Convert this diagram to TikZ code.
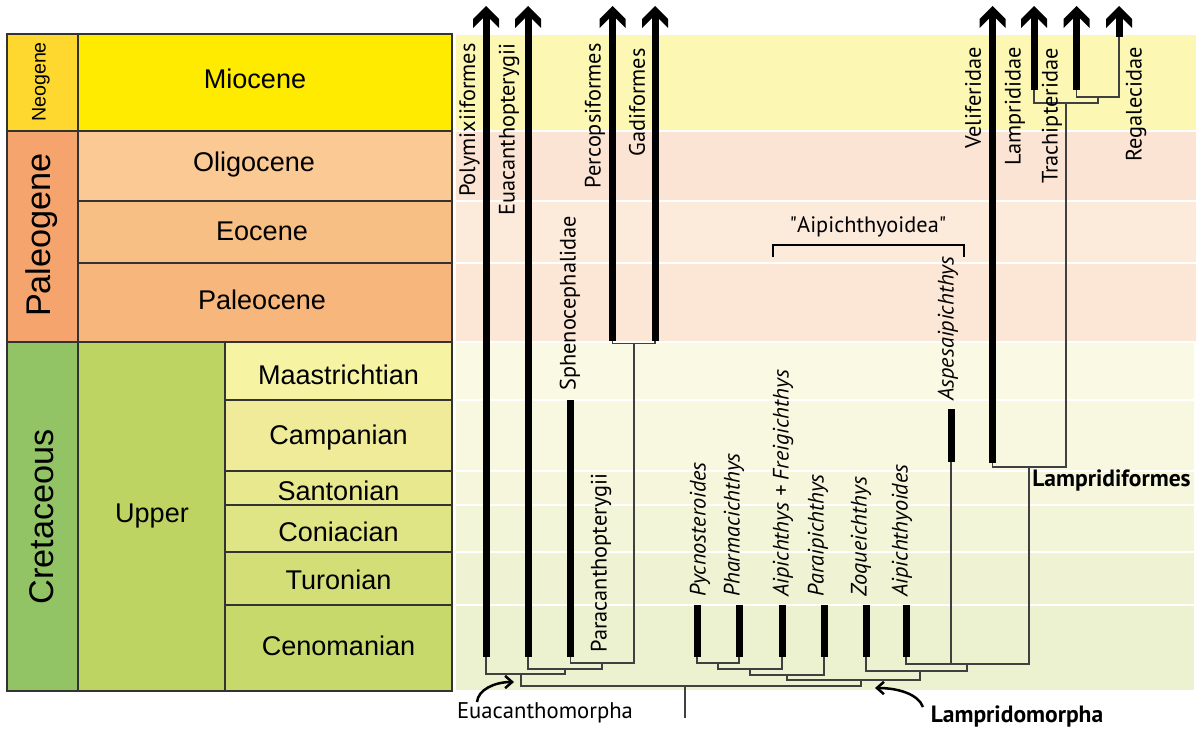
\documentclass[tikz,border=0pt]{standalone}
\usepackage{fontspec}
\setmainfont{PT Sans}
\newfontfamily\tsfont{Liberation Sans}
\usetikzlibrary{arrows.meta}
\definecolor{cNeo}{HTML}{FED82E}
\definecolor{cMio}{HTML}{FFEB00}
\definecolor{cPal}{HTML}{F4A46C}
\definecolor{cOli}{HTML}{FAC994}
\definecolor{cEoc}{HTML}{F8BF85}
\definecolor{cPcn}{HTML}{F7B67C}
\definecolor{cCre}{HTML}{92C466}
\definecolor{cUpp}{HTML}{BDD463}
\definecolor{cMaa}{HTML}{F6F3A2}
\definecolor{cCam}{HTML}{EFEB98}
\definecolor{cSan}{HTML}{E8E98F}
\definecolor{cCon}{HTML}{DFE484}
\definecolor{cTur}{HTML}{D4DE77}
\definecolor{cCen}{HTML}{C8D96B}
\definecolor{bMio}{HTML}{FCF7B3}
\definecolor{bOli}{HTML}{FCE4D4}
\definecolor{bEoc}{HTML}{FCEADB}
\definecolor{bPcn}{HTML}{FCE6D6}
\definecolor{bMaa}{HTML}{FAFAE4}
\definecolor{bCam}{HTML}{F8F8E0}
\definecolor{bSan}{HTML}{F5F6DC}
\definecolor{bCon}{HTML}{F3F5D8}
\definecolor{bTur}{HTML}{EFF3D3}
\definecolor{bCen}{HTML}{ECF2D0}
\begin{document}
\begin{tikzpicture}[x=0.02cm,y=-0.02cm,
  tbox/.style={draw=black!80,line width=0.022cm},
  tslab/.style={font=\tsfont\fontsize{15.4}{18}\selectfont,inner sep=0pt},
  bigrot/.style={font=\tsfont\fontsize{19.5}{22}\selectfont,inner sep=0pt,rotate=90},
  band/.style={draw=white,line width=0.04cm},
  bar/.style={line width=0.14cm,black},
  branch/.style={line width=0.026cm,black!75},
  taxon/.style={font=\fontsize{12.7}{14}\selectfont,inner sep=0pt,rotate=90},
  fossil/.style={font=\itshape\fontsize{12.7}{14}\selectfont,inner sep=0pt,rotate=90},
  clade/.style={font=\bfseries\fontsize{13.4}{15}\selectfont,inner sep=0pt},
  chev/.pic={\fill[black] (-13,13) -- (0,0) -- (13,13) -- (13,22) -- (0,9) -- (-13,22) -- cycle;},
  callout/.style={line width=0.05cm,-{Straight Barb[length=4pt,width=7pt]}}
  ]
\useasboundingbox (0,0) rectangle (1199,733);
% ---------- background bands ----------
\filldraw[band,fill=bMio] (455,34) rectangle (1197,131);
\filldraw[band,fill=bOli] (455,131) rectangle (1197,201);
\filldraw[band,fill=bEoc] (455,201) rectangle (1197,263);
\filldraw[band,fill=bPcn] (455,263) rectangle (1197,342);
\filldraw[band,fill=bMaa] (455,342) rectangle (1195,400);
\filldraw[band,fill=bCam] (455,400) rectangle (1195,471);
\filldraw[band,fill=bSan] (455,471) rectangle (1195,505);
\filldraw[band,fill=bCon] (455,505) rectangle (1195,552);
\filldraw[band,fill=bTur] (455,552) rectangle (1195,605);
\filldraw[band,fill=bCen] (455,605) rectangle (1195,691);
% ---------- time scale ----------
\filldraw[tbox,fill=cNeo] (7,34) rectangle (78,131);
\filldraw[tbox,fill=cMio] (78,34) rectangle (452,131);
\filldraw[tbox,fill=cPal] (7,131) rectangle (78,342);
\filldraw[tbox,fill=cOli] (78,131) rectangle (452,201);
\filldraw[tbox,fill=cEoc] (78,201) rectangle (452,263);
\filldraw[tbox,fill=cPcn] (78,263) rectangle (452,342);
\filldraw[tbox,fill=cCre] (7,342) rectangle (78,691);
\filldraw[tbox,fill=cUpp] (78,342) rectangle (225,691);
\filldraw[tbox,fill=cMaa] (225,342) rectangle (452,400);
\filldraw[tbox,fill=cCam] (225,400) rectangle (452,471);
\filldraw[tbox,fill=cSan] (225,471) rectangle (452,505);
\filldraw[tbox,fill=cCon] (225,505) rectangle (452,552);
\filldraw[tbox,fill=cTur] (225,552) rectangle (452,605);
\filldraw[tbox,fill=cCen] (225,605) rectangle (452,691);
\node[font=\tsfont\fontsize{11.2}{13}\selectfont,inner sep=0pt,rotate=90] (neo) at (41,82) {Neogene};
\node[bigrot] (pal) at (42,235) {Paleogene};
\node[bigrot] (cre) at (42,517) {Cretaceous};
\node[tslab] (mio) at (255,79) {Miocene};
\node[tslab] (oli) at (254,165) {Oligocene};
\node[tslab] (eoc) at (262,231) {Eocene};
\node[tslab] (pcn) at (262,300) {Paleocene};
\node[tslab] (upp) at (152,516) {Upper};
\node[tslab] (maa) at (338.5,375) {Maastrichtian};
\node[tslab] (cam) at (338.5,438) {Campanian};
\node[tslab] (san) at (338.5,491) {Santonian};
\node[tslab] (con) at (338.5,532) {Coniacian};
\node[tslab] (tur) at (338.5,580) {Turonian};
\node[tslab] (cen) at (338.5,646) {Cenomanian};
% ---------- tip coordinates ----------
\coordinate (poly) at (486,657);
\coordinate (euac) at (528,657);
\coordinate (sphe) at (570.5,657);
\coordinate (perc) at (612.5,341);
\coordinate (gadi) at (655,341);
\coordinate (pycn) at (697,657);
\coordinate (phar) at (739,657);
\coordinate (aipf) at (782,657);
\coordinate (para) at (824,657);
\coordinate (zoqu) at (866,657);
\coordinate (aipo) at (906,657);
\coordinate (aspe) at (951,462);
\coordinate (veli) at (992.5,463);
\coordinate (lamp) at (1034,90);
\coordinate (trac) at (1076.5,90);
\coordinate (rega) at (1119,37);
% ---------- arrows / bars ----------
\foreach \x in {486,528,612.5,655,992.5,1034,1076.5,1119} {\pic at (\x,6) {chev};}
\draw[bar] (486,14) -- (poly);
\draw[bar] (528,14) -- (euac);
\draw[bar] (612.5,14) -- (perc);
\draw[bar] (655,14) -- (gadi);
\draw[bar] (992.5,14) -- (veli);
\draw[bar] (1034,14) -- (lamp);
\draw[bar] (1076.5,14) -- (trac);
\draw[bar] (1119,14) -- (rega);
\draw[bar] (570.5,400) -- (sphe);
\draw[bar] (951,409) -- (aspe);
\foreach \c in {pycn,phar,aipf,para,zoqu,aipo} {\draw[bar] (\c) ++(0,-52) -- (\c);}
% ---------- branches ----------
% Lampridiformes
\draw[branch] (trac) |- (1098,97) -| (rega);
\draw[branch] (lamp) |- (1066,103) -| (1098,97);
\draw[branch] (veli) |- (1029,467) -| (1066,103);
% Paracanthopterygii
\draw[branch] (perc) |- (634,343.5) -| (gadi);
\draw[branch] (sphe) |- (602,663) -| (634,343.5);
\draw[branch] (euac) |- (565,669) -| (602,663);
\draw[branch] (poly) |- (521,674) -| (565,669);
% Lampridomorpha
\draw[branch] (pycn) |- (718,663) -| (phar);
\draw[branch] (aipf) |- (750,669) -| (718,663);
\draw[branch] (para) |- (787,675) -| (750,669);
\draw[branch] (aipo) |- (1029,664) -- (1029,467);
\draw[branch] (aspe) -- (951,664);
\draw[branch] (zoqu) |- (920,671) -| (967,664);
\draw[branch] (787,675) |- (861,680) -| (920,671);
\draw[branch] (521,674) |- (685,686) -| (861,680);
\draw[branch] (685,686) -- (685,718);
% ---------- taxon labels ----------
\node[taxon,anchor=east] (tPoly) at (469.5,43) {Polymixiiformes};
\node[taxon,anchor=east] (tEuac) at (509,43) {Euacanthopterygii};
\node[taxon,anchor=east] (tPerc) at (595,43) {Percopsiformes};
\node[taxon,anchor=east] (tGadi) at (637,48) {Gadiformes};
\node[taxon,anchor=west] (tSphe) at (570,391) {Sphenocephalidae};
\node[taxon,anchor=west] (tPara) at (601,653) {Paracanthopterygii};
\node[taxon,anchor=east] (tVeli) at (973,47) {Veliferidae};
\node[taxon,anchor=east] (tLamp) at (1015,47) {Lamprididae};
\node[taxon,anchor=east] (tTrac) at (1052,48) {Trachipteridae};
\node[taxon,anchor=east] (tRega) at (1136,47) {Regalecidae};
\node[fossil,anchor=west] (tPycn) at (700,597) {Pycnosteroides};
\node[fossil,anchor=west] (tPhar) at (734,597) {Pharmacichthys};
\node[fossil,anchor=west] (tAipf) at (783,597) {Aipichthys + Freigichthys};
\node[fossil,anchor=west] (tPara2) at (818,597) {Paraipichthys};
\node[fossil,anchor=west] (tZoqu) at (861,597) {Zoqueichthys};
\node[fossil,anchor=west] (tAipo) at (902,597) {Aipichthyoides};
\node[fossil,anchor=west] (tAspe) at (948,401) {Aspesaipichthys};
% bracket
\coordinate (brL) at (773,257);
\coordinate (brR) at (964,257);
\draw[line width=0.05cm] (brL) -- (773,245) -- (964,245) -- (brR);
\node[font=\fontsize{12.7}{14}\selectfont,inner sep=0pt] (tAipo2) at (868,227) {\textquotedbl Aipichthyoidea\textquotedbl};
% clade names
\node[clade,anchor=west] (tLampf) at (1032,480) {Lampridiformes};
\node[clade] (tLampm) at (1017,716) {Lampridomorpha};
\node[font=\fontsize{12.9}{14}\selectfont,inner sep=0pt] (tEuam) at (545,713) {Euacanthomorpha};
\coordinate (euArr) at (514,682);
\coordinate (laArr) at (875,688);
\draw[callout] (477,702) .. controls (478,690) and (494,682) .. (euArr);
\draw[callout] (923,707) .. controls (918,694) and (898,688) .. (laArr);
\end{tikzpicture}
\end{document}
